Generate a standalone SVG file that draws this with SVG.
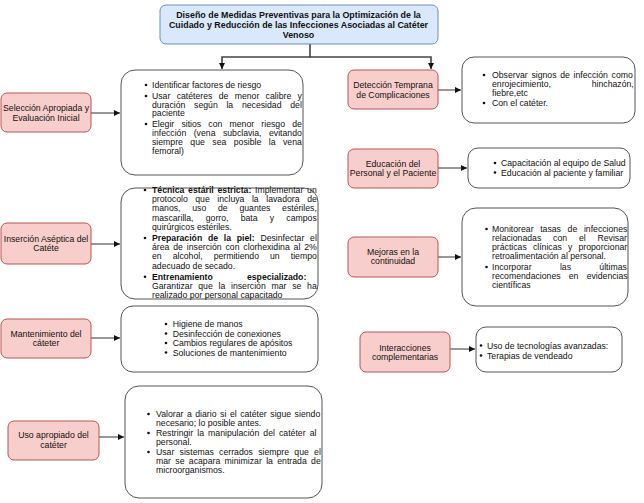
<svg xmlns="http://www.w3.org/2000/svg" width="644" height="503" viewBox="0 0 644 503">
<style>
text{font-family:"Liberation Sans",Arial,sans-serif;font-size:8.7px;fill:#111}
.c{text-anchor:middle}
.b{font-weight:bold}
.tt{font-weight:bold;font-size:8.9px}
.red{fill:#f8cecc;stroke:#b85450;stroke-width:1}
.box{fill:#fff;stroke:#555;stroke-width:1}
.ttl{fill:#dae8fc;stroke:#6c8ebf;stroke-width:1}
.cn{fill:none;stroke:#333;stroke-width:1;marker-end:url(#arr)}
.cn2{fill:none;stroke:#444;stroke-width:1.6;marker-end:url(#arr)}
circle{fill:#111}
</style>
<defs>
<marker id="arr" markerUnits="userSpaceOnUse" markerWidth="8" markerHeight="8" refX="6" refY="3" orient="auto"><path d="M0,0 L6,3 L0,6 Z" fill="#111"/></marker>
</defs>

<g id="connectors">
<path class="cn2" d="M310,44 V57 H222 V69"/>
<path class="cn2" d="M310,57 H431 V69"/>
<path class="cn" d="M91,113 H120"/>
<path class="cn" d="M91,244 H120"/>
<path class="cn" d="M91,338 H120"/>
<path class="cn" d="M99,437 H124"/>
<path class="cn" d="M438,90 H461"/>
<path class="cn" d="M438,168 H467"/>
<path class="cn" d="M438,257 H461"/>
<path class="cn" d="M450,349 H475"/>
</g>

<g id="title">
<rect class="ttl" x="160" y="5" width="278" height="39" rx="6"/>
<text class="tt c" x="298.5" y="18.2">Diseño de Medidas Preventivas para la Optimización de la</text>
<text class="tt c" x="298.5" y="28.2">Cuidado y Reducción de las Infecciones Asociadas al Catéter</text>
<text class="tt c" x="298.5" y="37.7">Venoso</text>
</g>

<g id="n-seleccion">
<rect class="red" x="1" y="93" width="90" height="39" rx="6"/>
<text class="c" x="46" y="111">Selección Apropiada y</text>
<text class="c" x="46" y="120.5">Evaluación Inicial</text>
</g>
<g id="d-seleccion">
<rect class="box" x="121" y="70" width="182" height="105" rx="14"/>
<circle cx="146" cy="85" r="1.3"/><circle cx="146" cy="96" r="1.3"/><circle cx="146" cy="124" r="1.3"/>
<text x="152" y="88">Identificar factores de riesgo</text>
<text x="152" y="99" style="word-spacing:3.9px">Usar catéteres de menor calibre y</text>
<text x="152" y="107.5" style="word-spacing:6.3px">duración según la necesidad del</text>
<text x="152" y="116">paciente</text>
<text x="152" y="127" style="word-spacing:4.76px">Elegir sitios con menor riesgo de</text>
<text x="152" y="136" style="word-spacing:5.03px">infección (vena subclavia, evitando</text>
<text x="152" y="145" style="word-spacing:5.04px">siempre que sea posible la vena</text>
<text x="152" y="154">femoral)</text>
</g>

<g id="n-insercion">
<rect class="red" x="1" y="223" width="90" height="41" rx="6"/>
<text class="c" x="46" y="241.5">Inserción Aséptica del</text>
<text class="c" x="46" y="251">Catéte</text>
</g>
<g id="d-insercion">
<rect class="box" x="121" y="188" width="197" height="111" rx="14"/>
<circle cx="145" cy="190" r="1.3"/><circle cx="145" cy="238" r="1.3"/><circle cx="145" cy="276.8" r="1.3"/>
<text x="152" y="193" style="word-spacing:1.35px"><tspan class="b">Técnica estáril estricta:</tspan> Implementar un</text>
<text x="152" y="202.2" style="word-spacing:5.14px">protocolo que incluya la lavadora de</text>
<text x="152" y="211.4" style="word-spacing:9.33px">manos, uso de guantes estériles,</text>
<text x="152" y="220.6" style="word-spacing:9.8px">mascarilla, gorro, bata y campos</text>
<text x="152" y="229.8">quirúrgicos estériles.</text>
<text x="152" y="241" style="word-spacing:3.32px"><tspan class="b">Preparación de la piel:</tspan> Desinfectar el</text>
<text x="152" y="250.2" style="word-spacing:1.47px">área de inserción con clorhexidina al 2%</text>
<text x="152" y="259.4" style="word-spacing:8.6px">en alcohol, permitiendo un tiempo</text>
<text x="152" y="268.6">adecuado de secado.</text>
<text x="152" y="279.8" class="b" style="word-spacing:31.7px">Entrenamiento especializado:</text>
<text x="152" y="289" style="word-spacing:3.32px">Garantizar que la inserción mar se ha</text>
<text x="152" y="298.2">realizado por personal capacitado</text>
</g>

<g id="n-mantenimiento">
<rect class="red" x="1" y="319" width="90" height="39" rx="6"/>
<text class="c" x="46" y="337">Mantenimiento del</text>
<text class="c" x="46" y="346">cáteter</text>
</g>
<g id="d-mantenimiento">
<rect class="box" x="121" y="306" width="197" height="66" rx="12"/>
<circle cx="166" cy="324" r="1.3"/><circle cx="166" cy="333.5" r="1.3"/><circle cx="166" cy="343" r="1.3"/><circle cx="166" cy="352.5" r="1.3"/>
<text x="172.7" y="327">Higiene de manos</text>
<text x="172.7" y="336.5">Desinfección de conexiones</text>
<text x="172.7" y="346">Cambios regulares de apósitos</text>
<text x="172.7" y="355.5">Soluciones de mantenimiento</text>
</g>

<g id="n-uso">
<rect class="red" x="8" y="421" width="91" height="39" rx="6"/>
<text class="c" x="53.5" y="438">Uso apropiado del</text>
<text class="c" x="53.5" y="447.5">catéter</text>
</g>
<g id="d-uso">
<rect class="box" x="125" y="386" width="197" height="112" rx="14"/>
<circle cx="148.5" cy="414" r="1.3"/><circle cx="148.5" cy="433" r="1.3"/><circle cx="148.5" cy="452" r="1.3"/>
<text x="156" y="417" style="word-spacing:1.13px">Valorar a diario si el catéter sigue siendo</text>
<text x="156" y="426">necesario; lo posible antes.</text>
<text x="156" y="436" style="word-spacing:1.66px">Restringir la manipulación del catéter al</text>
<text x="156" y="445">personal.</text>
<text x="156" y="455" style="word-spacing:2.84px">Usar sistemas cerrados siempre que el</text>
<text x="156" y="464" style="word-spacing:1.95px">mar se acapara minimizar la entrada de</text>
<text x="156" y="473">microorganismos.</text>
</g>

<g id="n-deteccion">
<rect class="red" x="348" y="70" width="90" height="39" rx="6"/>
<text class="c" x="393" y="88">Detección Temprana</text>
<text class="c" x="393" y="97.5">de Complicaciones</text>
</g>
<g id="d-deteccion">
<rect class="box" x="462" y="57" width="173" height="66" rx="12"/>
<circle cx="484" cy="75" r="1.3"/><circle cx="484" cy="103" r="1.3"/>
<text x="492" y="78" style="word-spacing:1.28px">Observar signos de infección como</text>
<text x="492" y="87" style="word-spacing:38.4px">enrojecimiento, hinchazón,</text>
<text x="492" y="96">fiebre,etc</text>
<text x="492" y="106">Con el catéter.</text>
</g>

<g id="n-educacion">
<rect class="red" x="348" y="149" width="90" height="39" rx="6"/>
<text class="c" x="393" y="166.5">Educación del</text>
<text class="c" x="393" y="176">Personal y el Paciente</text>
</g>
<g id="d-educacion">
<rect class="box" x="468" y="148" width="162" height="40" rx="10"/>
<circle cx="495" cy="163" r="1.3"/><circle cx="495" cy="172.5" r="1.3"/>
<text x="501" y="166">Capacitación al equipo de Salud</text>
<text x="501" y="175.5">Educación al paciente y familiar</text>
</g>

<g id="n-mejoras">
<rect class="red" x="348" y="237" width="90" height="40" rx="6"/>
<text class="c" x="393" y="254.5">Mejoras en la</text>
<text class="c" x="393" y="264">continuidad</text>
</g>
<g id="d-mejoras">
<rect class="box" x="462" y="208" width="166" height="98" rx="14"/>
<circle cx="486.5" cy="229" r="1.3"/><circle cx="486.5" cy="267" r="1.3"/>
<text x="492" y="232" style="word-spacing:4.23px">Monitorear tasas de infecciones</text>
<text x="492" y="241" style="word-spacing:9.4px">relacionadas con el Revisar</text>
<text x="492" y="250" style="word-spacing:3.7px">prácticas clínicas y proporcionar</text>
<text x="492" y="259">retroalimentación al personal.</text>
<text x="492" y="270" style="word-spacing:25.9px">Incorporar las últimas</text>
<text x="492" y="279" style="word-spacing:5.8px">recomendaciones en evidencias</text>
<text x="492" y="288">científicas</text>
</g>

<g id="n-interacciones">
<rect class="red" x="360" y="332" width="90" height="40" rx="6"/>
<text class="c" x="405" y="351">Interacciones</text>
<text class="c" x="405" y="360">complementarias</text>
</g>
<g id="d-interacciones">
<rect class="box" x="476" y="327" width="146" height="45" rx="10"/>
<circle cx="481" cy="345.5" r="1.3"/><circle cx="481" cy="355.5" r="1.3"/>
<text x="487" y="348.5">Uso de tecnologías avanzadas:</text>
<text x="487" y="358.5">Terapias de vendeado</text>
</g>
</svg>
